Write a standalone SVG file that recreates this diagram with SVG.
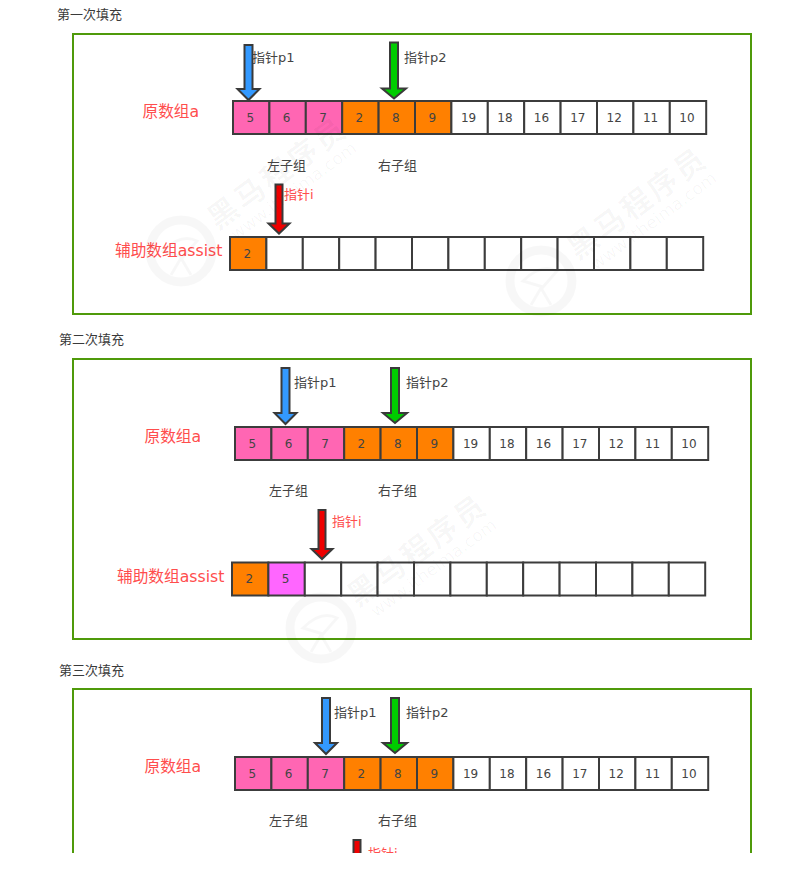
<svg xmlns="http://www.w3.org/2000/svg" width="802" height="872" viewBox="0 0 802 872">
<style>
text{font-family:"DejaVu Sans","Noto Sans CJK SC",sans-serif}
.panel{fill:#fff;stroke:#4f9a0a;stroke-width:2}
.c{stroke:#3c3c3c;stroke-width:2;fill:#fff}
.p{fill:#ff66b3}.o{fill:#ff8000}.m{fill:#ff66ff}
.n{font-size:12px;fill:#444;text-anchor:middle;transform:translate(-1px,-.5px)}
.h{font-size:13px;fill:#3a3a3a}
.l{font-size:13px;fill:#444}
.r{font-size:15.7px;fill:#ff4d4d}
.ri{font-size:13px;fill:#ff4d4d}
.arrow{stroke:#3a3a3a;stroke-width:2;stroke-linejoin:miter}
.wm{fill:#000;fill-opacity:.035;font-weight:bold;font-size:30px;letter-spacing:3px}
.wu{fill:#000;fill-opacity:.035;font-size:17px}
.wr{fill:none;stroke:#000;stroke-opacity:.03}
</style>
<defs>
<g id="wmark">
<circle class="wr" cx="-42" cy="38" r="31" stroke-width="9"/>
<path class="wr" d="M-60 38Q-42 20-26 28L-40 44ZM-42 45L-52 62M-42 45L-32 62" stroke-width="3"/>
<text class="wm" x="-15" y="11" transform="rotate(-36.5)">黑马程序员</text>
<text class="wu" x="-6" y="30" transform="rotate(-36.5)">www.itheima.com</text>
</g>
</defs>

<g id="caption-1"><text class="h" x="57" y="19">第一次填充</text></g>
<g id="panel-1"><rect class="panel" x="73" y="34" width="678" height="280"/>
<text class="r" x="142.500" y="116.500">原数组a</text>
<text class="r" x="115" y="255.500">辅助数组assist</text>
<text class="l" x="267" y="169.500">左子组</text>
<text class="l" x="378" y="169.500">右子组</text>
<text class="l" x="252" y="62">指针p1</text>
<text class="l" x="404" y="62">指针p2</text>
<text class="ri" x="284" y="199">指针i</text>
</g>
<g id="array-a-1" transform="translate(233 101)">
<rect class="c p" x="0" width="36.4" height="33"/><rect class="c p" x="36.4" width="36.4" height="33"/><rect class="c p" x="72.8" width="36.4" height="33"/><rect class="c o" x="109.2" width="36.4" height="33"/><rect class="c o" x="145.6" width="36.4" height="33"/><rect class="c o" x="182" width="36.4" height="33"/><rect class="c" x="218.4" width="36.4" height="33"/><rect class="c" x="254.8" width="36.4" height="33"/><rect class="c" x="291.2" width="36.4" height="33"/><rect class="c" x="327.6" width="36.4" height="33"/><rect class="c" x="364" width="36.4" height="33"/><rect class="c" x="400.4" width="36.4" height="33"/><rect class="c" x="436.8" width="36.4" height="33"/>
<text class="n" x="18.2" y="21">5</text><text class="n" x="54.6" y="21">6</text><text class="n" x="91" y="21">7</text><text class="n" x="127.4" y="21">2</text><text class="n" x="163.8" y="21">8</text><text class="n" x="200.2" y="21">9</text><text class="n" x="236.6" y="21">19</text><text class="n" x="273" y="21">18</text><text class="n" x="309.4" y="21">16</text><text class="n" x="345.8" y="21">17</text><text class="n" x="382.2" y="21">12</text><text class="n" x="418.6" y="21">11</text><text class="n" x="455" y="21">10</text>
</g>
<g id="array-assist-1" transform="translate(230 237)">
<rect class="c o" x="0" width="36.4" height="33"/><rect class="c" x="36.4" width="36.4" height="33"/><rect class="c" x="72.8" width="36.4" height="33"/><rect class="c" x="109.2" width="36.4" height="33"/><rect class="c" x="145.6" width="36.4" height="33"/><rect class="c" x="182" width="36.4" height="33"/><rect class="c" x="218.4" width="36.4" height="33"/><rect class="c" x="254.8" width="36.4" height="33"/><rect class="c" x="291.2" width="36.4" height="33"/><rect class="c" x="327.6" width="36.4" height="33"/><rect class="c" x="364" width="36.4" height="33"/><rect class="c" x="400.4" width="36.4" height="33"/><rect class="c" x="436.8" width="36.4" height="33"/>
<text class="n" x="18.2" y="21">2</text>
</g>

<g id="caption-2"><text class="h" x="59" y="344">第二次填充</text></g>
<g id="panel-2"><rect class="panel" x="73" y="359" width="678" height="280"/>
<text class="r" x="144.500" y="441.500">原数组a</text>
<text class="r" x="117" y="581.500">辅助数组assist</text>
<text class="l" x="269" y="494.500">左子组</text>
<text class="l" x="378" y="494.500">右子组</text>
<text class="l" x="294" y="387">指针p1</text>
<text class="l" x="406" y="387">指针p2</text>
<text class="ri" x="332" y="526">指针i</text>
</g>
<g id="array-a-2" transform="translate(235 427)">
<rect class="c p" x="0" width="36.4" height="33"/><rect class="c p" x="36.4" width="36.4" height="33"/><rect class="c p" x="72.8" width="36.4" height="33"/><rect class="c o" x="109.2" width="36.4" height="33"/><rect class="c o" x="145.6" width="36.4" height="33"/><rect class="c o" x="182" width="36.4" height="33"/><rect class="c" x="218.4" width="36.4" height="33"/><rect class="c" x="254.8" width="36.4" height="33"/><rect class="c" x="291.2" width="36.4" height="33"/><rect class="c" x="327.6" width="36.4" height="33"/><rect class="c" x="364" width="36.4" height="33"/><rect class="c" x="400.4" width="36.4" height="33"/><rect class="c" x="436.8" width="36.4" height="33"/>
<text class="n" x="18.2" y="21">5</text><text class="n" x="54.6" y="21">6</text><text class="n" x="91" y="21">7</text><text class="n" x="127.4" y="21">2</text><text class="n" x="163.8" y="21">8</text><text class="n" x="200.2" y="21">9</text><text class="n" x="236.6" y="21">19</text><text class="n" x="273" y="21">18</text><text class="n" x="309.4" y="21">16</text><text class="n" x="345.8" y="21">17</text><text class="n" x="382.2" y="21">12</text><text class="n" x="418.6" y="21">11</text><text class="n" x="455" y="21">10</text>
</g>
<g id="array-assist-2" transform="translate(232 562.500)">
<rect class="c o" x="0" width="36.4" height="33"/><rect class="c m" x="36.4" width="36.4" height="33"/><rect class="c" x="72.8" width="36.4" height="33"/><rect class="c" x="109.2" width="36.4" height="33"/><rect class="c" x="145.6" width="36.4" height="33"/><rect class="c" x="182" width="36.4" height="33"/><rect class="c" x="218.4" width="36.4" height="33"/><rect class="c" x="254.8" width="36.4" height="33"/><rect class="c" x="291.2" width="36.4" height="33"/><rect class="c" x="327.6" width="36.4" height="33"/><rect class="c" x="364" width="36.4" height="33"/><rect class="c" x="400.4" width="36.4" height="33"/><rect class="c" x="436.8" width="36.4" height="33"/>
<text class="n" x="18.2" y="21">2</text><text class="n" x="54.6" y="21">5</text>
</g>

<g id="caption-3"><text class="h" x="59" y="675">第三次填充</text></g>
<g id="panel-3"><rect class="panel" x="73" y="689" width="678" height="240"/>
<text class="r" x="144.500" y="771.500">原数组a</text>
<text class="l" x="269" y="824.500">左子组</text>
<text class="l" x="378" y="824.500">右子组</text>
<text class="l" x="334" y="717">指针p1</text>
<text class="l" x="406" y="717">指针p2</text>
<text class="ri" x="368" y="858">指针i</text>
</g>
<g id="array-a-3" transform="translate(235 757)">
<rect class="c p" x="0" width="36.4" height="33"/><rect class="c p" x="36.4" width="36.4" height="33"/><rect class="c p" x="72.8" width="36.4" height="33"/><rect class="c o" x="109.2" width="36.4" height="33"/><rect class="c o" x="145.6" width="36.4" height="33"/><rect class="c o" x="182" width="36.4" height="33"/><rect class="c" x="218.4" width="36.4" height="33"/><rect class="c" x="254.8" width="36.4" height="33"/><rect class="c" x="291.2" width="36.4" height="33"/><rect class="c" x="327.6" width="36.4" height="33"/><rect class="c" x="364" width="36.4" height="33"/><rect class="c" x="400.4" width="36.4" height="33"/><rect class="c" x="436.8" width="36.4" height="33"/>
<text class="n" x="18.2" y="21">5</text><text class="n" x="54.6" y="21">6</text><text class="n" x="91" y="21">7</text><text class="n" x="127.4" y="21">2</text><text class="n" x="163.8" y="21">8</text><text class="n" x="200.2" y="21">9</text><text class="n" x="236.6" y="21">19</text><text class="n" x="273" y="21">18</text><text class="n" x="309.4" y="21">16</text><text class="n" x="345.8" y="21">17</text><text class="n" x="382.2" y="21">12</text><text class="n" x="418.6" y="21">11</text><text class="n" x="455" y="21">10</text>
</g>

<g id="connectors">
<path class="arrow" fill="#3399ff" d="M244.500 45h8v44h7l-11 11-11-11h7z"/>
<path class="arrow" fill="#00cc00" d="M390 42.500h8v46h8l-12 10-12-10h8z"/>
<path class="arrow" fill="#ee0000" d="M275.500 184.500h7v39h7l-10.500 10-10.500-10h7z"/>
<path class="arrow" fill="#3399ff" d="M281.500 368h8v45h7l-11 11-11-11h7z"/>
<path class="arrow" fill="#00cc00" d="M391 368h8v45h8l-12 10-12-10h8z"/>
<path class="arrow" fill="#ee0000" d="M318.500 510h7v39h7l-10.500 10-10.500-10h7z"/>
<path class="arrow" fill="#3399ff" d="M322 698h8v45h7l-11 11-11-11h7z"/>
<path class="arrow" fill="#00cc00" d="M391 698h8v45h8l-12 10-12-10h8z"/>
<path class="arrow" fill="#ee0000" d="M353.500 840h7v39h7l-10.500 10-10.500-10h7z"/>
</g>
<g id="watermarks">
<use href="#wmark" x="223" y="213"/><use href="#wmark" x="583" y="243"/><use href="#wmark" x="363" y="590"/>
</g>
<rect id="page-cut" x="0" y="853" width="802" height="19" fill="#fff"/>
</svg>
